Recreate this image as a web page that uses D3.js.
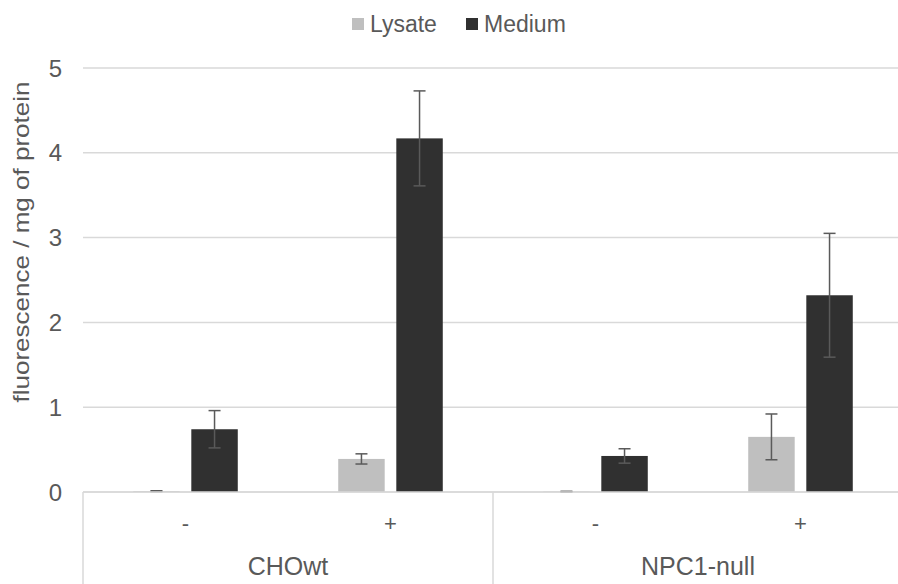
<!DOCTYPE html>
<html>
<head>
<meta charset="utf-8">
<script src="https://cdn.jsdelivr.net/npm/d3@7"></script>
<style>
  body { margin: 0; background: #fff; }
  text { font-family: "Liberation Sans", Arial, sans-serif; fill: #595959; }
</style>
</head>
<body>
<svg id="chart" width="898" height="584"></svg>
<script>
// values
var cellLines = ['CHOwt', 'NPC1-null'];
var treatments = ['-', '+'];
var seriesNames = ['Lysate', 'Medium'];
var lysate = [0.01, 0.39, 0.005, 0.65];
var lysateErr = [0.005, 0.06, 0.003, 0.27];
var medium = [0.74, 4.17, 0.425, 2.32];
var mediumErr = [0.22, 0.56, 0.085, 0.73];
var yTicks = [0, 1, 2, 3, 4, 5];

var colors = { Lysate: '#bfbfbf', Medium: '#303030' };

var svg = d3.select('#chart');
var plotLeft = 83, plotRight = 903, plotTop = 68, plotBottom = 492;

// one slot per cell line / treatment pair
var slots = [];
cellLines.forEach(function(c, ci) {
  treatments.forEach(function(t, ti) {
    var i = ci * treatments.length + ti;
    slots.push({ id: c + t, cell: c, treat: t,
      Lysate: lysate[i], LysateErr: lysateErr[i],
      Medium: medium[i], MediumErr: mediumErr[i] });
  });
});

var y = d3.scaleLinear().domain([0, 5]).range([plotBottom, plotTop]);

var x0 = d3.scaleBand()
  .domain(slots.map(function(d) { return d.id; }))
  .range([plotLeft, plotRight])
  .paddingInner(0.49)
  .paddingOuter(0.245);

var x1 = d3.scaleBand()
  .domain(seriesNames)
  .range([0, x0.bandwidth()])
  .paddingInner(0.2);

// gridlines
svg.append('g').selectAll('line')
  .data(yTicks)
  .enter().append('line')
  .attr('x1', plotLeft).attr('x2', plotRight)
  .attr('y1', function(d) { return y(d); })
  .attr('y2', function(d) { return y(d); })
  .attr('stroke', '#d9d9d9')
  .attr('stroke-width', 1.5);

// y tick labels
svg.append('g').selectAll('text')
  .data(yTicks)
  .enter().append('text')
  .attr('x', 62)
  .attr('y', function(d) { return y(d); })
  .attr('dy', '0.36em')
  .attr('text-anchor', 'end')
  .style('font-size', '24px')
  .text(function(d) { return d; });

// y axis title
svg.append('text')
  .attr('transform', 'translate(29,242) rotate(-90)')
  .attr('text-anchor', 'middle')
  .attr('textLength', 321)
  .attr('lengthAdjust', 'spacingAndGlyphs')
  .style('font-size', '22px')
  .text('fluorescence / mg of protein');

// bars
var groups = svg.append('g').selectAll('g')
  .data(slots)
  .enter().append('g')
  .attr('transform', function(d) { return 'translate(' + x0(d.id) + ',0)'; });

function barData(d) {
  return seriesNames.map(function(s) { return { s: s, v: d[s], e: d[s + 'Err'] }; });
}

groups.selectAll('rect')
  .data(barData)
  .enter().append('rect')
  .attr('x', function(d) { return x1(d.s); })
  .attr('width', x1.bandwidth())
  .attr('y', function(d) { return y(d.v); })
  .attr('height', function(d) { return y(0) - y(d.v); })
  .attr('fill', function(d) { return colors[d.s]; });

// error bars
var errs = groups.selectAll('g.err')
  .data(barData)
  .enter().append('g')
  .attr('class', 'err')
  .attr('stroke', '#5a5a5a')
  .attr('stroke-width', 1.5);

errs.append('line')
  .attr('x1', function(d) { return x1(d.s) + x1.bandwidth() / 2; })
  .attr('x2', function(d) { return x1(d.s) + x1.bandwidth() / 2; })
  .attr('y1', function(d) { return y(d.v + d.e); })
  .attr('y2', function(d) { return y(d.v - d.e); });

[1, -1].forEach(function(sign) {
  errs.append('line')
    .attr('x1', function(d) { return x1(d.s) + x1.bandwidth() / 2 - 6; })
    .attr('x2', function(d) { return x1(d.s) + x1.bandwidth() / 2 + 6; })
    .attr('y1', function(d) { return y(d.v + sign * d.e); })
    .attr('y2', function(d) { return y(d.v + sign * d.e); });
});

// category axis: zero line and separators
svg.append('line')
  .attr('x1', plotLeft).attr('x2', plotRight)
  .attr('y1', y(0)).attr('y2', y(0))
  .attr('stroke', '#d9d9d9').attr('stroke-width', 1.5);

var step = x0.step();
var sepX = d3.range(cellLines.length + 1).map(function(i) { return plotLeft + i * step * treatments.length; });
svg.append('g').selectAll('line')
  .data(sepX)
  .enter().append('line')
  .attr('x1', function(d) { return d; })
  .attr('x2', function(d) { return d; })
  .attr('y1', y(0)).attr('y2', 584)
  .attr('stroke', '#d9d9d9').attr('stroke-width', 1.5);

svg.append('g').selectAll('text')
  .data(slots)
  .enter().append('text')
  .attr('x', function(d) { return x0(d.id) + x0.bandwidth() / 2; })
  .attr('y', 531)
  .attr('text-anchor', 'middle')
  .style('font-size', '22px')
  .text(function(d) { return d.treat; });

svg.append('g').selectAll('text')
  .data(cellLines)
  .enter().append('text')
  .attr('x', function(d, i) { return (sepX[i] + sepX[i + 1]) / 2; })
  .attr('y', 575)
  .attr('text-anchor', 'middle')
  .style('font-size', '25px')
  .text(function(d) { return d; });

// legend
var legendX = [352, 466];
var legend = svg.append('g').selectAll('g')
  .data(seriesNames)
  .enter().append('g')
  .attr('transform', function(d, i) { return 'translate(' + legendX[i] + ',18)'; });

legend.append('rect')
  .attr('width', 12).attr('height', 12)
  .attr('fill', function(d) { return colors[d]; });

legend.append('text')
  .attr('x', 18)
  .attr('y', 14)
  .style('font-size', '23px')
  .text(function(d) { return d; });
</script>
</body>
</html>
